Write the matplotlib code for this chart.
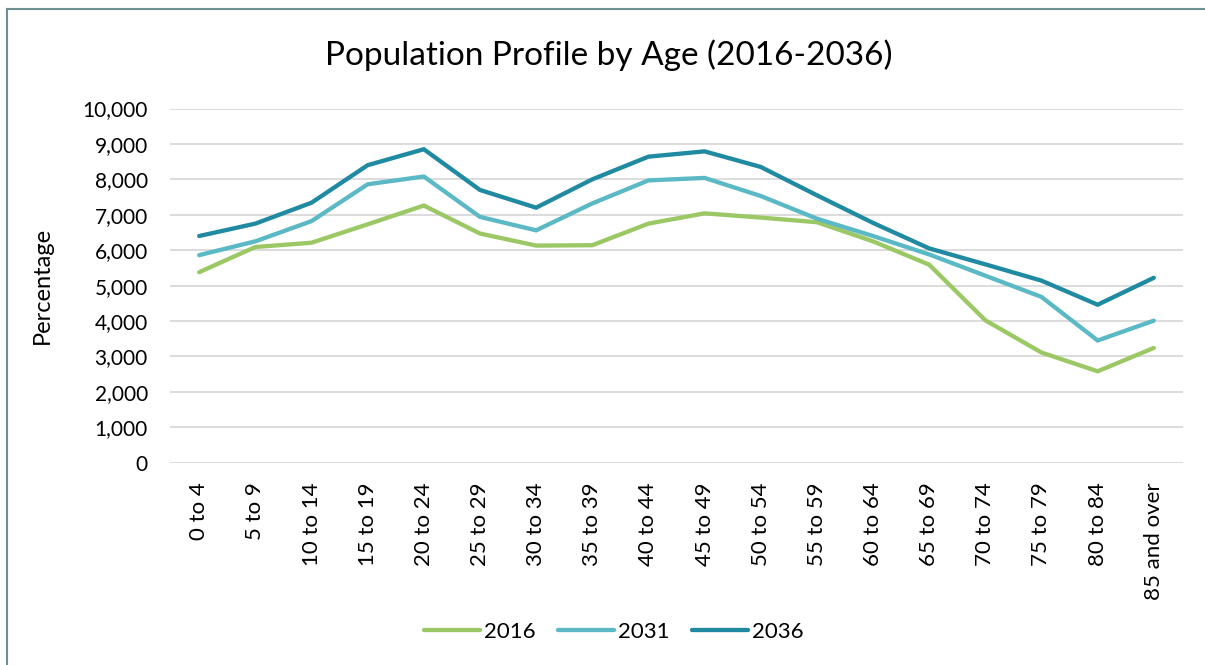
import matplotlib.pyplot as plt
from matplotlib.lines import Line2D
from matplotlib.ticker import FuncFormatter

# age bands on the x axis
AGE_GROUPS = ["0 to 4", "5 to 9", "10 to 14", "15 to 19", "20 to 24", "25 to 29",
              "30 to 34", "35 to 39", "40 to 44", "45 to 49", "50 to 54", "55 to 59",
              "60 to 64", "65 to 69", "70 to 74", "75 to 79", "80 to 84", "85 and over"]

# values
POP_2016 = [5380, 6090, 6210, 6730, 7260, 6470, 6130, 6140, 6750,
            7040, 6920, 6790, 6250, 5590, 4020, 3110, 2580, 3240]
POP_2031 = [5860, 6250, 6820, 7860, 8080, 6940, 6560, 7320, 7970,
            8040, 7530, 6890, 6400, 5880, 5280, 4680, 3450, 4010]
POP_2036 = [6400, 6750, 7340, 8400, 8850, 7700, 7200, 8000, 8640,
            8790, 8350, 7550, 6770, 6050, 5600, 5140, 4460, 5220]

SERIES = ["2016", "2031", "2036"]
COLORS = ["#9BC865", "#5BB9C5", "#1F8AA1"]

plt.rcParams["font.family"] = ["Lato", "DejaVu Sans"]

W, H = 1205, 665
fig = plt.figure(figsize=(W / 100, H / 100), dpi=100)

# outer frame (left/top visible, rest runs off the image)
fig.add_artist(Line2D([7 / W, 7 / W], [0, 1 - 9 / H], transform=fig.transFigure,
                      color="#6F9090", lw=1.5))
fig.add_artist(Line2D([7 / W, 1], [1 - 9 / H, 1 - 9 / H], transform=fig.transFigure,
                      color="#6F9090", lw=1.5))

left, right, top, bottom = 170, 1183, 108.5, 462.7
ax = fig.add_axes([left / W, 1 - bottom / H, (right - left) / W, (bottom - top) / H])

x = range(len(AGE_GROUPS))
for name, vals, col in zip(SERIES, [POP_2016, POP_2031, POP_2036], COLORS):
    ax.plot(x, vals, color=col, lw=3.1, label=name,
            solid_capstyle="round", solid_joinstyle="miter")

ax.set_ylim(0, 10000)
ax.set_xlim(-0.52, len(AGE_GROUPS) - 0.48)
ax.set_yticks(range(0, 10001, 1000))
ax.yaxis.set_major_formatter(FuncFormatter(lambda v, _: f"{int(v):,}"))
ax.set_xticks(list(x))
ax.set_xticklabels(AGE_GROUPS, rotation=90, va="top", ha="center")
ax.tick_params(axis="both", length=0, colors="black")
ax.tick_params(axis="x", labelsize=16, pad=14)
ax.tick_params(axis="y", labelsize=15, pad=16)
ax.grid(axis="y", color="#D9D9D9", lw=1.3)
ax.set_axisbelow(True)
for s in ax.spines.values():
    s.set_visible(False)

ax.set_ylabel("Percentage", fontsize=17, labelpad=21)

fig.text(609 / W, 1 - 55 / H, "Population Profile by Age (2016-2036)",
         fontsize=24, ha="center", va="center")

fig.legend(loc="center", bbox_to_anchor=(614 / W, 1 - 632 / H), ncol=3,
           frameon=False, fontsize=16, handlelength=2.5, handletextpad=0.2,
           columnspacing=1.0)

fig.savefig("out.png", dpi=100)
